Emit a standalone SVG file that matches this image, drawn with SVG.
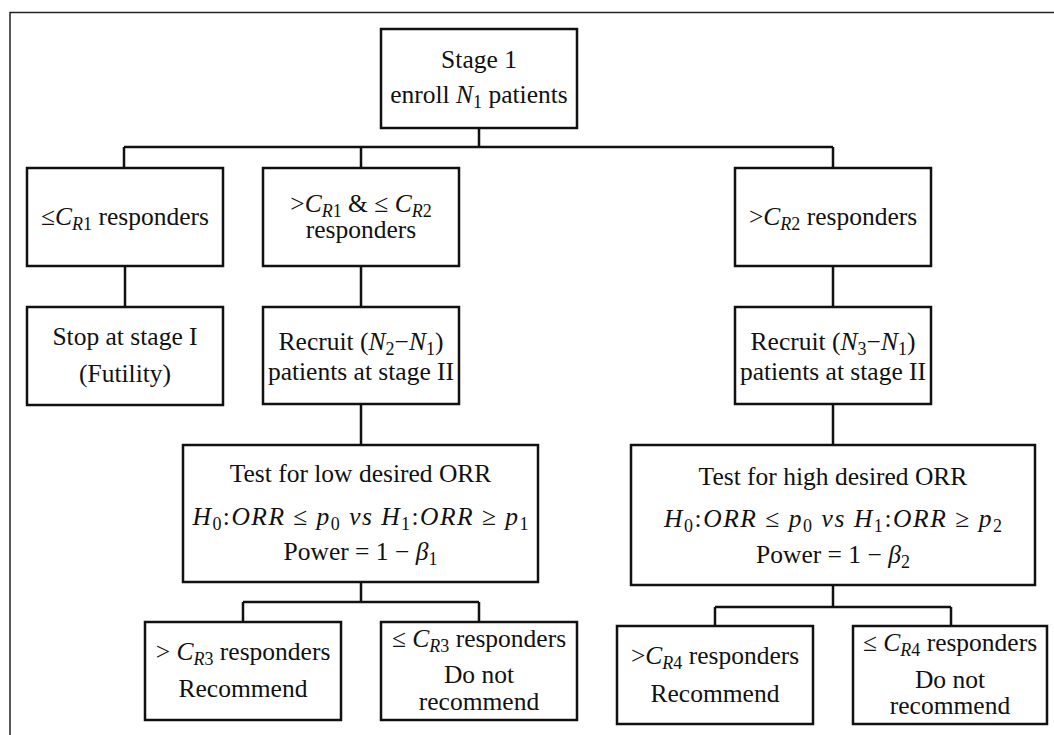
<svg xmlns="http://www.w3.org/2000/svg" width="1054" height="735" viewBox="0 0 1054 735">
<style>
.box{fill:#fff;stroke:#111;stroke-width:2.5}
.frame{fill:none;stroke:#222;stroke-width:1.5}
.con{fill:none;stroke:#111;stroke-width:2.5}
text{font-family:"Liberation Serif","Times New Roman",serif;font-size:25.5px;fill:#111;text-anchor:middle}
.i{font-style:italic}
.s{font-size:18px}
</style>
<rect width="1054" height="735" fill="#fff"/>
<path class="frame" d="M10,740 V12.5 H1060"/>
<g id="connectors">
<path class="con" d="M479,128 V147 M124,147 H833 M124,147 V168 M361,147 V168 M833,147 V168"/>
<path class="con" d="M125,266 V307 M361,266 V307 M833,266 V307"/>
<path class="con" d="M361,404 V445 M833,404 V445"/>
<path class="con" d="M361,582 V602 M243,602 H479 M243,602 V622 M479,602 V622"/>
<path class="con" d="M833,585 V607 M715,607 H951 M715,607 V626 M951,607 V626"/>
</g>
<g id="stage1">
<rect class="box" x="381" y="29" width="196" height="99"/>
<text x="479" y="68">Stage 1</text>
<text x="479" y="103">enroll <tspan class="i">N</tspan><tspan class="s" dy="5">1</tspan><tspan dy="-5"> patients</tspan></text>
</g>
<g id="le-cr1">
<rect class="box" x="27" y="168" width="196" height="98"/>
<text x="125" y="225">≤<tspan class="i">C</tspan><tspan class="s" dy="5"><tspan class="i">R</tspan>1</tspan><tspan dy="-5"> responders</tspan></text>
</g>
<g id="between">
<rect class="box" x="263" y="168" width="196" height="98"/>
<text x="361" y="212">&gt;<tspan class="i">C</tspan><tspan class="s" dy="5"><tspan class="i">R</tspan>1</tspan><tspan dy="-5">  &amp; ≤ </tspan><tspan class="i">C</tspan><tspan class="s" dy="5"><tspan class="i">R</tspan>2</tspan></text>
<text x="361" y="238">responders</text>
</g>
<g id="gt-cr2">
<rect class="box" x="735" y="168" width="196" height="98"/>
<text x="833" y="225">&gt;<tspan class="i">C</tspan><tspan class="s" dy="5"><tspan class="i">R</tspan>2</tspan><tspan dy="-5"> responders</tspan></text>
</g>
<g id="stop">
<rect class="box" x="27" y="307" width="196" height="98"/>
<text x="125" y="345">Stop at stage I</text>
<text x="125" y="382">(Futility)</text>
</g>
<g id="recruit2">
<rect class="box" x="263" y="307" width="196" height="97"/>
<text x="361" y="350">Recruit (<tspan class="i">N</tspan><tspan class="s" dy="5">2</tspan><tspan dy="-5">−</tspan><tspan class="i">N</tspan><tspan class="s" dy="5">1</tspan><tspan dy="-5">)</tspan></text>
<text x="361" y="380">patients at stage II</text>
</g>
<g id="recruit3">
<rect class="box" x="735" y="307" width="196" height="97"/>
<text x="833" y="350">Recruit (<tspan class="i">N</tspan><tspan class="s" dy="5">3</tspan><tspan dy="-5">−</tspan><tspan class="i">N</tspan><tspan class="s" dy="5">1</tspan><tspan dy="-5">)</tspan></text>
<text x="833" y="380">patients at stage II</text>
</g>
<g id="test-low">
<rect class="box" x="183" y="445" width="355" height="137"/>
<text x="360.5" y="482">Test for low desired ORR</text>
<text x="360.5" y="525" textLength="336" lengthAdjust="spacing"><tspan class="i">H</tspan><tspan class="s" dy="5">0</tspan><tspan dy="-5">:</tspan><tspan class="i">ORR</tspan> ≤ <tspan class="i">p</tspan><tspan class="s" dy="5">0</tspan><tspan dy="-5"> </tspan><tspan class="i">vs H</tspan><tspan class="s" dy="5">1</tspan><tspan dy="-5">:</tspan><tspan class="i">ORR</tspan> ≥ <tspan class="i">p</tspan><tspan class="s" dy="5">1</tspan></text>
<text x="360.5" y="560">Power = 1 − <tspan class="i">β</tspan><tspan class="s" dy="5">1</tspan></text>
</g>
<g id="test-high">
<rect class="box" x="631" y="445" width="404" height="140"/>
<text x="833" y="485">Test for high desired ORR</text>
<text x="833" y="527" textLength="338" lengthAdjust="spacing"><tspan class="i">H</tspan><tspan class="s" dy="5">0</tspan><tspan dy="-5">:</tspan><tspan class="i">ORR</tspan> ≤ <tspan class="i">p</tspan><tspan class="s" dy="5">0</tspan><tspan dy="-5"> </tspan><tspan class="i">vs H</tspan><tspan class="s" dy="5">1</tspan><tspan dy="-5">:</tspan><tspan class="i">ORR</tspan> ≥ <tspan class="i">p</tspan><tspan class="s" dy="5">2</tspan></text>
<text x="833" y="563">Power = 1 − <tspan class="i">β</tspan><tspan class="s" dy="5">2</tspan></text>
</g>
<g id="gt-cr3">
<rect class="box" x="145" y="622" width="196" height="98"/>
<text x="243" y="660">&gt; <tspan class="i">C</tspan><tspan class="s" dy="5"><tspan class="i">R</tspan>3</tspan><tspan dy="-5"> responders</tspan></text>
<text x="243" y="697">Recommend</text>
</g>
<g id="le-cr3">
<rect class="box" x="381" y="622" width="196" height="98"/>
<text x="479" y="647">≤ <tspan class="i">C</tspan><tspan class="s" dy="5"><tspan class="i">R</tspan>3</tspan><tspan dy="-5"> responders</tspan></text>
<text x="479" y="683">Do not</text>
<text x="479" y="710">recommend</text>
</g>
<g id="gt-cr4">
<rect class="box" x="617" y="626" width="196" height="98"/>
<text x="715" y="664">&gt;<tspan class="i">C</tspan><tspan class="s" dy="5"><tspan class="i">R</tspan>4</tspan><tspan dy="-5"> responders</tspan></text>
<text x="715" y="702">Recommend</text>
</g>
<g id="le-cr4">
<rect class="box" x="853" y="626" width="194" height="98"/>
<text x="950" y="651">≤ <tspan class="i">C</tspan><tspan class="s" dy="5"><tspan class="i">R</tspan>4</tspan><tspan dy="-5"> responders</tspan></text>
<text x="950" y="688">Do not</text>
<text x="950" y="714">recommend</text>
</g>
</svg>
